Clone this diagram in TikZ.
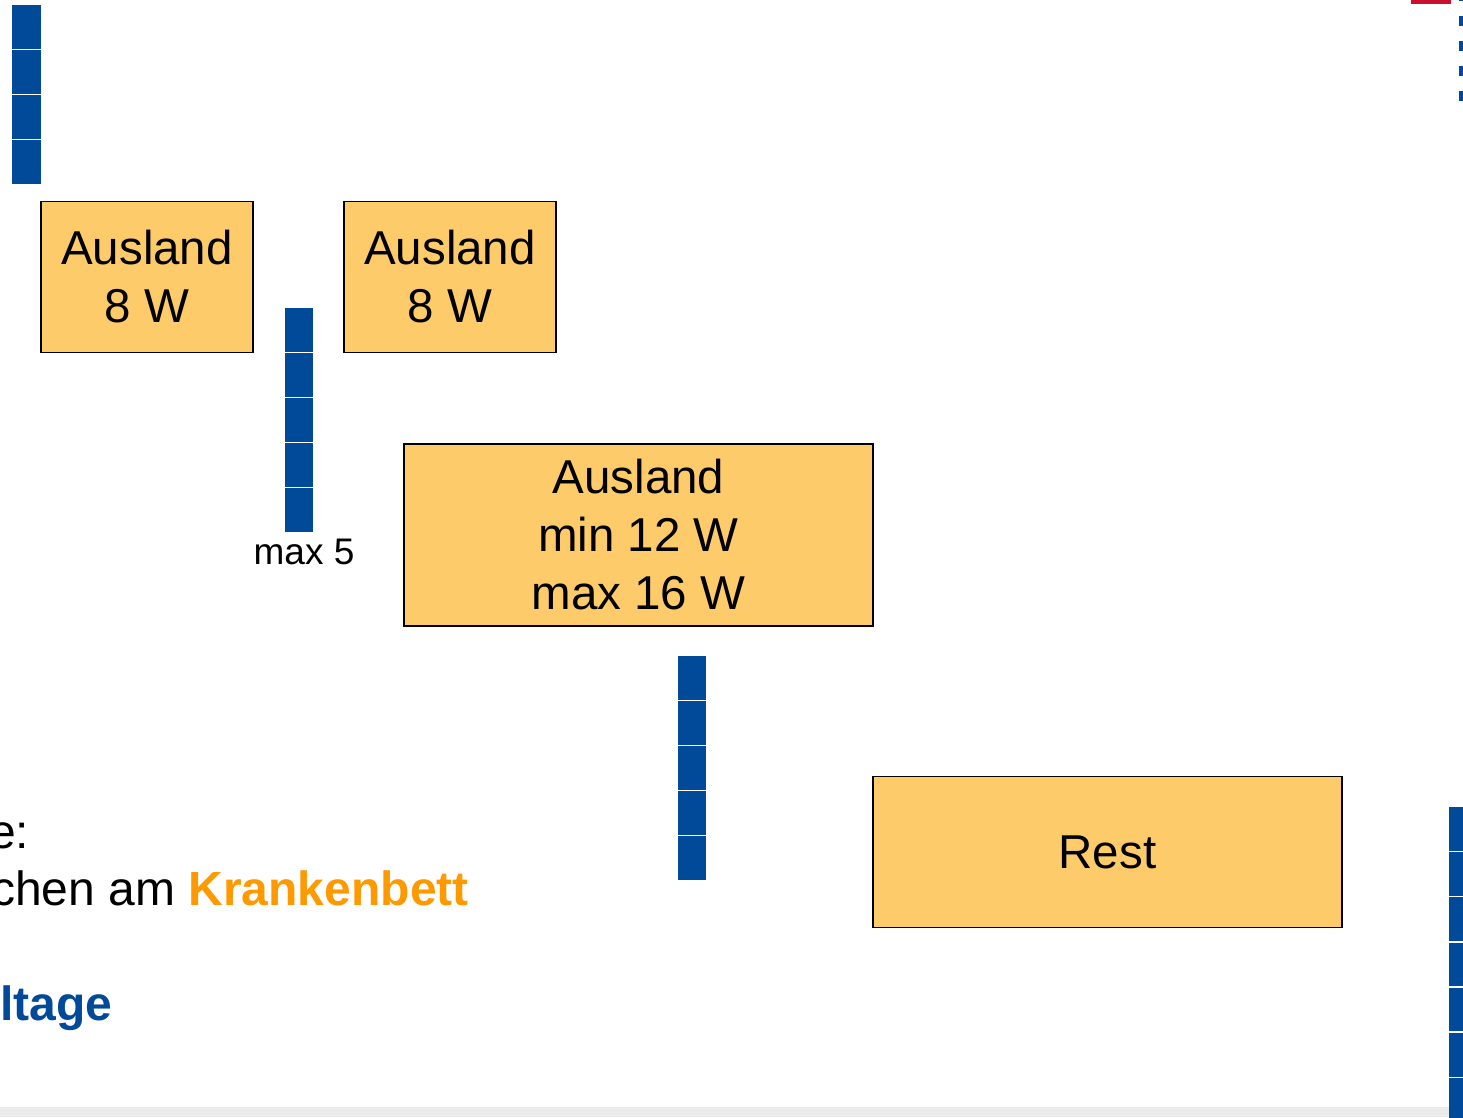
\documentclass[tikz,border=0pt]{standalone}
\usepackage{fontspec}
\setmainfont{Liberation Sans}
\definecolor{boxfill}{HTML}{FECB6A}
\definecolor{barblue}{HTML}{004A99}
\definecolor{krank}{HTML}{FF9900}
\definecolor{redbar}{HTML}{C8102E}
\definecolor{band}{HTML}{EBEBEB}
\tikzset{
  wbox/.style={draw=black, line width=1.5pt, fill=boxfill, inner sep=0pt, align=center,
    font=\fontsize{47.5}{58}\selectfont},
  blk/.style={fill=barblue},
  bodytext/.style={inner sep=0pt, font=\fontsize{48}{58}\selectfont},
}
\begin{document}
\begin{tikzpicture}[x=1pt,y=-1pt]
\useasboundingbox (0,0) rectangle (1463,1117);
\clip (0,0) rectangle (1463,1117);
\fill[white] (0,0) rectangle (1463,1117);
% bottom grey band
\fill[band] (0,1107) rectangle (1463,1117);
% top right decorations
\fill[redbar] (1411,0) rectangle (1451,3.5);
\draw[barblue, line width=4pt, dash pattern=on 10pt off 15pt, dash phase=0pt] (1461,-9) -- (1461,110);
% bars of blocks
\foreach \i in {0,...,3} \fill[blk] (12,{5+45*\i}) rectangle (41,{5+45*\i+43.5});
\foreach \i in {0,...,4} \fill[blk] (285,{308+45*\i}) rectangle (313,{308+45*\i+43.5});
\foreach \i in {0,...,4} \fill[blk] (678,{656+45*\i}) rectangle (706,{656+45*\i+43.5});
\foreach \i in {0,...,6} \fill[blk] (1449,{807+45.2*\i}) rectangle (1470,{807+45.2*\i+43.5});
% boxes
\node[wbox, minimum width=212pt, minimum height=151pt] (a1) at (147,277) {Ausland\\8 W};
\node[wbox, minimum width=212pt, minimum height=151pt] (a2) at (450,277) {Ausland\\8 W};
\node[wbox, minimum width=469pt, minimum height=182pt] (a3) at (638.5,535) {Ausland\\min 12 W\\max 16 W};
\node[wbox, minimum width=469pt, minimum height=151pt] (rest) at (1107.5,852) {Rest};
% label
\node[inner sep=0pt, font=\fontsize{37}{44}\selectfont] (max5) at (304,552) {max 5};
% bottom left text
\node[bodytext, anchor=base west] (t1) at (-11,848) {e:};
\node[bodytext, anchor=base west] (t2) at (-9,905) {chen am \textcolor{krank}{\textbf{Krankenbett}}};
\node[bodytext, anchor=base west] (t3) at (0,1020) {\textcolor{barblue}{\textbf{ltage}}};
\end{tikzpicture}
\end{document}
